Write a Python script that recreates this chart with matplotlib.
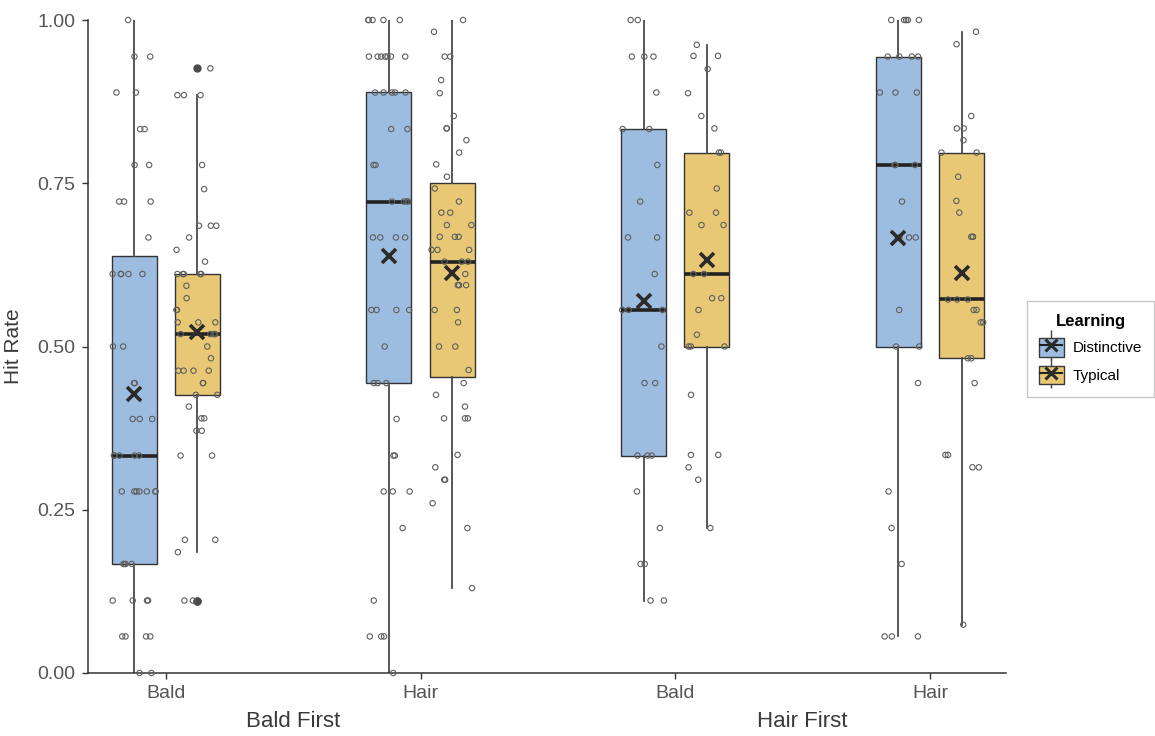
import numpy as np
import matplotlib.pyplot as plt
import matplotlib.transforms as mtransforms
from matplotlib.patches import Patch
from matplotlib.lines import Line2D

plt.rcParams['font.family'] = ['Liberation Sans', 'DejaVu Sans']

# x categories
conditions = ["Bald", "Hair", "Bald", "Hair"]
orders = ["Bald First", "Hair First"]
learning = ["Distinctive", "Typical"]
colors = ["#9dbde0", "#e8c874"]

# hit rate per participant
bf_bald_dist = [0, 0, 0.056, 0.056, 0.056, 0.056, 0.111, 0.111, 0.111, 0.111,
                0.167, 0.167, 0.167, 0.167, 0.278, 0.278, 0.278, 0.278, 0.278,
                0.278, 0.278, 0.333, 0.333, 0.333, 0.333, 0.333, 0.389, 0.389,
                0.389, 0.444, 0.444, 0.5, 0.5, 0.611, 0.611, 0.611, 0.611, 0.611,
                0.667, 0.722, 0.722, 0.722, 0.778, 0.778, 0.833, 0.833, 0.889,
                0.889, 0.944, 0.944, 1.0]
bf_bald_typ = [0.111, 0.111, 0.185, 0.204, 0.204, 0.333, 0.333, 0.371, 0.371,
               0.39, 0.39, 0.408, 0.426, 0.426, 0.444, 0.444, 0.463, 0.463,
               0.463, 0.463, 0.482, 0.5, 0.519, 0.519, 0.519, 0.519, 0.537,
               0.537, 0.537, 0.556, 0.556, 0.574, 0.593, 0.611, 0.611, 0.611,
               0.611, 0.611, 0.63, 0.648, 0.667, 0.685, 0.685, 0.685, 0.741,
               0.778, 0.885, 0.885, 0.885, 0.926]
bf_hair_dist = [0, 0.056, 0.056, 0.056, 0.111, 0.222, 0.278, 0.278, 0.278,
                0.333, 0.333, 0.389, 0.444, 0.444, 0.444, 0.5, 0.556, 0.556,
                0.556, 0.556, 0.667, 0.667, 0.667, 0.667, 0.722, 0.722, 0.722,
                0.722, 0.778, 0.778, 0.833, 0.833, 0.889, 0.889, 0.889, 0.889,
                0.889, 0.944, 0.944, 0.944, 0.944, 0.944, 0.944, 0.944, 1.0,
                1.0, 1.0, 1.0, 1.0]
bf_hair_typ = [0.13, 0.222, 0.26, 0.296, 0.296, 0.315, 0.334, 0.39, 0.39, 0.39,
               0.408, 0.426, 0.444, 0.464, 0.5, 0.5, 0.537, 0.556, 0.556,
               0.594, 0.594, 0.594, 0.611, 0.63, 0.63, 0.63, 0.648, 0.648,
               0.648, 0.668, 0.668, 0.668, 0.686, 0.686, 0.705, 0.705, 0.722,
               0.742, 0.76, 0.779, 0.797, 0.816, 0.834, 0.834, 0.853, 0.888,
               0.908, 0.944, 0.944, 0.982, 1.0]
hf_bald_dist = [0.111, 0.111, 0.167, 0.167, 0.222, 0.278, 0.333, 0.333, 0.333,
                0.444, 0.444, 0.5, 0.556, 0.556, 0.556, 0.611, 0.667, 0.667,
                0.722, 0.778, 0.833, 0.833, 0.889, 0.944, 0.944, 0.944, 1.0, 1.0]
hf_bald_typ = [0.222, 0.296, 0.315, 0.334, 0.334, 0.426, 0.5, 0.5, 0.5, 0.518,
               0.556, 0.574, 0.574, 0.611, 0.611, 0.686, 0.686, 0.705, 0.705,
               0.742, 0.797, 0.797, 0.834, 0.853, 0.888, 0.925, 0.945, 0.945,
               0.962]
hf_hair_dist = [0.056, 0.056, 0.056, 0.167, 0.222, 0.278, 0.444, 0.5, 0.5,
                0.556, 0.667, 0.667, 0.667, 0.722, 0.778, 0.778, 0.778, 0.889,
                0.889, 0.889, 0.944, 0.944, 0.944, 0.944, 1.0, 1.0, 1.0, 1.0, 1.0]
hf_hair_typ = [0.074, 0.315, 0.315, 0.334, 0.334, 0.444, 0.482, 0.482, 0.537,
               0.537, 0.556, 0.556, 0.572, 0.572, 0.572, 0.668, 0.668, 0.668,
               0.705, 0.723, 0.76, 0.797, 0.797, 0.816, 0.834, 0.834, 0.853,
               0.963, 0.982]

groups = [[bf_bald_dist, bf_hair_dist, hf_bald_dist, hf_hair_dist],
          [bf_bald_typ, bf_hair_typ, hf_bald_typ, hf_hair_typ]]

fig = plt.figure(figsize=(11.55, 7.36), dpi=100)
ax = fig.add_axes([0.0762, 0.0856, 0.7948, 0.8872])

pos = np.arange(len(conditions))
offset = 0.124
rng = np.random.default_rng(7)  # horizontal jitter only

for k, data in enumerate(groups):
    p = pos + (2 * k - 1) * offset
    bp = ax.boxplot(data, positions=p, widths=0.177, patch_artist=True,
                    showcaps=False, showmeans=True, manage_ticks=False,
                    boxprops=dict(facecolor=colors[k], edgecolor='#333333', linewidth=1),
                    medianprops=dict(color='#222222', linewidth=2.6),
                    whiskerprops=dict(color='#4a4a4a', linewidth=1.3),
                    meanprops=dict(marker='x', markeredgecolor='#2b2b2b',
                                   markersize=10, markeredgewidth=2.6),
                    flierprops=dict(marker='o', markerfacecolor='#4a4a4a',
                                    markeredgecolor='#4a4a4a', markersize=5))
    for m in bp['means']:
        m.set_zorder(6)
    for j, d in enumerate(data):
        xs = p[j] + rng.uniform(-0.085, 0.085, len(d))
        ax.scatter(xs, d, s=15, facecolors='none', edgecolors='#5f5f5f',
                   linewidths=0.8, zorder=5, clip_on=False)

ax.set_xlim(-0.305, 3.298)
ax.set_ylim(0, 1)
ax.set_xticks(pos)
ax.set_xticklabels(conditions)
ax.set_yticks([0, 0.25, 0.5, 0.75, 1.0])
ax.set_yticklabels(['0.00', '0.25', '0.50', '0.75', '1.00'])
ax.tick_params(length=4, width=1, color='#333333', labelsize=14,
               labelcolor='#555555', pad=5)
for s in ['top', 'right']:
    ax.spines[s].set_visible(False)
for s in ['left', 'bottom']:
    ax.spines[s].set_color('#333333')
    ax.spines[s].set_linewidth(1.1)

ax.set_ylabel('Hit Rate', fontsize=15, color='#3a3a3a')
ax.yaxis.set_label_coords(-0.071, 0.5)

trans = mtransforms.blended_transform_factory(ax.transData, ax.transAxes)
for i, name in enumerate(orders):
    ax.text(2 * i + 0.5, -0.075, name, transform=trans, ha='center', va='center',
            fontsize=16, color='#3a3a3a')

handles = []
for c in colors:
    handles.append((Line2D([], [], marker='|', markersize=21, color='#444444', ls='none'),
                    Patch(facecolor=c, edgecolor='#3a3a3a'),
                    Line2D([], [], marker='_', markersize=17, markeredgewidth=1.5,
                           color='#222222', ls='none'),
                    Line2D([], [], marker='x', markersize=9, markeredgewidth=2.2,
                           color='#2b2b2b', ls='none')))
leg = fig.legend(handles, learning, title='Learning', loc='center left',
                 bbox_to_anchor=(1027 / 1155, 1 - 349 / 736), frameon=True,
                 fancybox=False, edgecolor='#bbbbbb', fontsize=11,
                 title_fontproperties={'weight': 'bold', 'size': 12},
                 handlelength=1.6, handleheight=1.5, borderpad=0.8,
                 labelspacing=0.6, handletextpad=0.6, borderaxespad=0)
leg.get_frame().set_linewidth(1)

fig.savefig('out.png', dpi=100)
